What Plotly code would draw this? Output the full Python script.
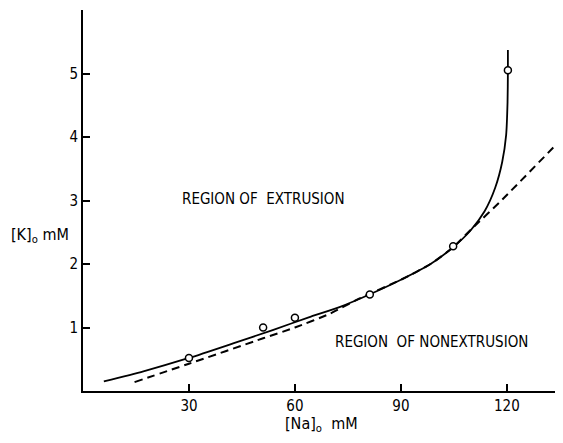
import plotly.graph_objects as go

# Data
pts_na = [30, 51, 60, 81.2, 104.8, 120.3]
pts_k = [0.52, 1.0, 1.155, 1.52, 2.28, 5.05]

solid_na = [5.9, 17.1, 30, 42.5, 53.7, 63.9, 73, 81.1, 90.3, 98.4, 104.7,
            109.6, 113.7, 116.7, 118.7, 119.8, 120.2, 120.3, 120.3]
solid_k = [0.15, 0.31, 0.52, 0.75, 0.96, 1.16, 1.33, 1.52, 1.76, 2.0, 2.26,
           2.52, 2.83, 3.2, 3.61, 4.03, 4.55, 5.05, 5.37]

dash_na = [14.6, 30, 51, 60, 70, 78, 90.3, 98.4, 104.7, 110, 118.8, 135]
dash_k = [0.14, 0.43, 0.83, 1.0, 1.22, 1.45, 1.76, 2.0, 2.26, 2.55, 3.02, 3.94]

x_ticks = [30, 60, 90, 120]
y_ticks = [1, 2, 3, 4, 5, 6]
y_ticktext = ["1", "2", "3", "4", "5", ""]

FONT = "Liberation Sans Narrow, DejaVu Sans Condensed, Arial Narrow, sans-serif"

fig = go.Figure()
fig.add_trace(go.Scatter(x=solid_na, y=solid_k, mode="lines",
                         line=dict(color="black", width=1.8, shape="spline", smoothing=0.6),
                         showlegend=False, hoverinfo="skip"))
fig.add_trace(go.Scatter(x=dash_na, y=dash_k, mode="lines",
                         line=dict(color="black", width=2, dash="8px,5px", shape="spline", smoothing=0.6),
                         showlegend=False, hoverinfo="skip"))
fig.add_trace(go.Scatter(x=pts_na, y=pts_k, mode="markers",
                         marker=dict(symbol="circle", size=7, color="white",
                                     line=dict(color="black", width=1.5)),
                         showlegend=False))

fig.add_annotation(x=51.2, y=3.02, text="REGION OF  EXTRUSION", showarrow=False,
                   xanchor="center", font=dict(family=FONT, size=15, color="black"))
fig.add_annotation(x=98.8, y=0.775, text="REGION  OF NONEXTRUSION", showarrow=False,
                   xanchor="center", font=dict(family=FONT, size=15, color="black"))
fig.add_annotation(xref="paper", yref="y", x=(31.5 - 75) / 480, y=2.45,
                   xanchor="center", yanchor="middle",
                   text="[K]<sub>o</sub> mM", showarrow=False,
                   font=dict(family=FONT, size=16, color="black"))
fig.add_annotation(xref="x", yref="paper", x=67.5, y=-(425 - 391.5) / 381.5,
                   xanchor="center", yanchor="middle",
                   text="[Na]<sub>o</sub>  mM", showarrow=False,
                   font=dict(family=FONT, size=16, color="black"))

fig.update_xaxes(range=[0, 135.9], tickvals=x_ticks, ticks="inside", ticklen=7,
                 tickwidth=1.5, tickcolor="black", showline=True, linecolor="black",
                 linewidth=2, showgrid=False, zeroline=False,
                 tickfont=dict(family=FONT, size=15, color="black"))
fig.update_yaxes(range=[0, 6], tickvals=y_ticks, ticktext=y_ticktext, ticks="inside",
                 ticklen=7, tickwidth=1.5, tickcolor="black", showline=True,
                 linecolor="black", linewidth=2, showgrid=False, zeroline=False,
                 tickfont=dict(family=FONT, size=15, color="black"))

# page body adds an 8px offset; compensate so the plot lands where the reference has it
fig.update_layout(width=555, height=435, margin=dict(l=75, r=0, t=2, b=51.5),
                  plot_bgcolor="white", paper_bgcolor="white")

fig.write_html("out.html")
